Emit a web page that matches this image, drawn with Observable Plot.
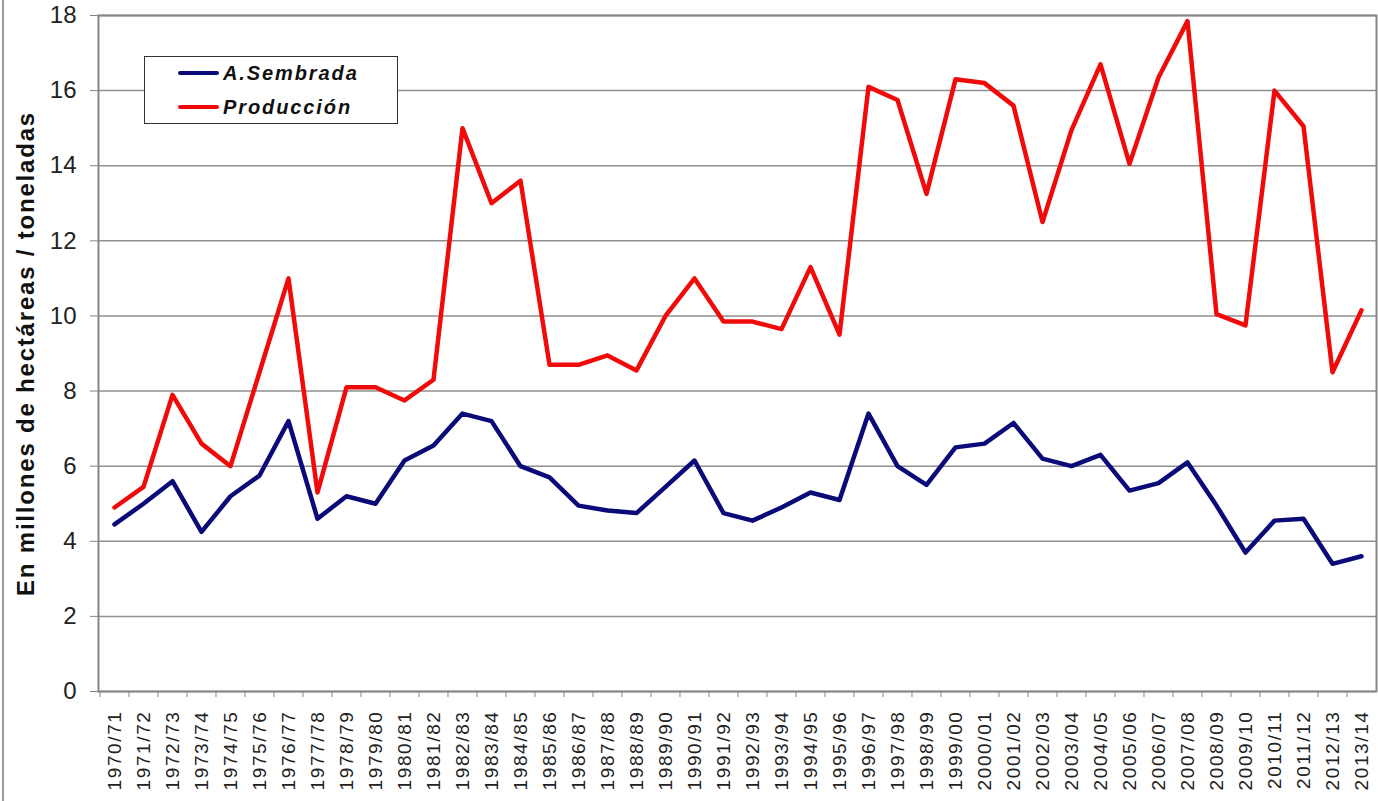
<!DOCTYPE html>
<html>
<head>
<meta charset="utf-8">
<script src="https://cdn.jsdelivr.net/npm/d3@7"></script>
<script src="https://cdn.jsdelivr.net/npm/@observablehq/plot@0.6"></script>
<style>
  html, body { margin: 0; padding: 0; background: #fff; overflow: hidden; }
  #wrap { position: relative; width: 1378px; height: 801px; font-family: "Liberation Sans", Arial, sans-serif; }
  #edge { position: absolute; left: 2px; top: 0; width: 2px; height: 801px; background: #9a9a9a; }
  #legend { position: absolute; left: 144px; top: 56px; width: 252px; height: 66px; border: 1.5px solid #333; background: #fff; box-sizing: content-box; }
  .row { position: absolute; left: 33px; height: 30px; display: flex; align-items: center; }
  .sw { width: 41px; height: 4px; margin-right: 4px; border-radius: 2px; }
  .lab { font-weight: bold; font-style: italic; font-size: 20px; letter-spacing: 1.9px; color: #111; }
</style>
</head>
<body>
<div id="wrap">
  <div id="chart"></div>
  <div id="edge"></div>
  <div id="legend"></div>
</div>
<script>
const seasons = ["1970/71","1971/72","1972/73","1973/74","1974/75","1975/76","1976/77","1977/78","1978/79","1979/80",
  "1980/81","1981/82","1982/83","1983/84","1984/85","1985/86","1986/87","1987/88","1988/89","1989/90",
  "1990/91","1991/92","1992/93","1993/94","1994/95","1995/96","1996/97","1997/98","1998/99","1999/00",
  "2000/01","2001/02","2002/03","2003/04","2004/05","2005/06","2006/07","2007/08","2008/09","2009/10",
  "2010/11","2011/12","2012/13","2013/14"];
const areaSembrada = [4.45,5.0,5.6,4.25,5.2,5.75,7.2,4.6,5.2,5.0,
  6.15,6.55,7.4,7.2,6.0,5.7,4.95,4.82,4.75,5.45,
  6.15,4.75,4.55,4.9,5.3,5.1,7.4,6.0,5.5,6.5,
  6.6,7.15,6.2,6.0,6.3,5.35,5.55,6.1,4.95,3.7,
  4.55,4.6,3.4,3.6];
const produccion = [4.9,5.45,7.9,6.6,6.0,8.5,11.0,5.3,8.1,8.1,
  7.75,8.3,15.0,13.0,13.6,8.7,8.7,8.95,8.55,10.0,
  11.0,9.85,9.85,9.65,11.3,9.5,16.1,15.75,13.25,16.3,
  16.2,15.6,12.5,14.95,16.7,14.05,16.35,17.85,10.05,9.75,
  16.0,15.05,8.5,10.15];
const seriesNames = ["A.Sembrada", "Producción"];
const seriesColors = ["#0a0a78", "#f00a0a"];
const yTicks = [0,2,4,6,8,10,12,14,16,18];
const yTitle = "En millones de hectáreas / toneladas";

const data = seasons.flatMap((s, i) => [
  {season: s, serie: seriesNames[0], value: areaSembrada[i]},
  {season: s, serie: seriesNames[1], value: produccion[i]}
]);

const W = 1378, H = 801, mL = 98, mR = 2, mT = 15, mB = 110;
const step = (W - mL - mR) / seasons.length;

const chart = Plot.plot({
  width: W, height: H,
  marginLeft: mL, marginRight: mR, marginTop: mT, marginBottom: mB,
  style: {fontFamily: "'Liberation Sans', Arial, sans-serif", color: "#222", background: "transparent"},
  x: {type: "point", domain: seasons, padding: 0.5},
  y: {domain: [0, 18]},
  color: {domain: seriesNames, range: seriesColors},
  marks: [
    Plot.gridY(yTicks, {stroke: "#8f8f8f", strokeOpacity: 1, strokeWidth: 1.5}),
    Plot.frame({stroke: "#858585", strokeWidth: 2}),
    Plot.axisY(yTicks, {tickSize: 8, tickPadding: 14, fontSize: 24, label: null, stroke: "#858585", tickFormat: d => String(d)}),
    Plot.axisX({tickSize: 0, tickRotate: -90, tickPadding: 19, fontSize: 19, label: null}),
    Plot.axisX({text: null, tickSize: 6, dx: -step / 2, stroke: "#858585", label: null}),
    Plot.text([yTitle], {frameAnchor: "left", textAnchor: "middle", rotate: -90, dx: -72, fontSize: 24, fontWeight: "bold", fill: "#111"}),
    Plot.line(data, {x: "season", y: "value", z: "serie", stroke: "serie", strokeWidth: 4.5, strokeLinejoin: "round"})
  ]
});
document.getElementById("chart").appendChild(chart);

d3.select(chart).selectAll('g[aria-label="x-axis tick label"] text').style("letter-spacing", "1.6px");
d3.select(chart).selectAll('g[aria-label="text"] text').style("letter-spacing", "1.8px");

const legend = document.getElementById("legend");
seriesNames.forEach((name, i) => {
  const row = document.createElement("div");
  row.className = "row";
  row.style.top = (i === 0 ? 1 : 35) + "px";
  const sw = document.createElement("div");
  sw.className = "sw";
  sw.style.background = seriesColors[i];
  const lab = document.createElement("span");
  lab.className = "lab";
  lab.textContent = name;
  row.appendChild(sw); row.appendChild(lab);
  legend.appendChild(row);
});
</script>
</body>
</html>
